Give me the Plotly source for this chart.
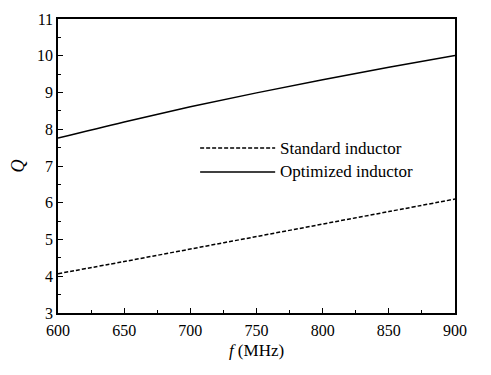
import plotly.graph_objects as go

freq = [600, 650, 700, 750, 800, 850, 900]
q_standard = [4.07, 4.40, 4.74, 5.08, 5.42, 5.76, 6.10]
q_optimized = [7.76, 8.20, 8.61, 8.99, 9.35, 9.69, 10.01]

FONT = "Liberation Serif, Times New Roman, Times, serif"

fig = go.Figure()
fig.add_trace(go.Scatter(x=freq, y=q_standard, mode="lines", name="Standard inductor",
                         line=dict(color="black", width=1.5, dash="4px,2px"), line_shape="spline",
                         showlegend=False))
fig.add_trace(go.Scatter(x=freq, y=q_optimized, mode="lines", name="Optimized inductor",
                         line=dict(color="black", width=1.5), line_shape="spline",
                         showlegend=False))

# manual legend
legend_items = [("Standard inductor", "4px,2px", 0.561), ("Optimized inductor", "solid", 0.480)]
for label, dash, yy in legend_items:
    fig.add_shape(type="line", xref="paper", yref="paper", x0=0.358, x1=0.547, y0=yy, y1=yy,
                  line=dict(color="black", width=1.5, dash=dash))
    fig.add_annotation(xref="paper", yref="paper", x=0.553, y=yy, text=label, showarrow=False,
                       xanchor="left", yanchor="middle", font=dict(family=FONT, size=17, color="black"))

axis_common = dict(showline=True, linecolor="black", linewidth=1.5, mirror=True,
                   ticks="inside", ticklen=5, tickwidth=1.2, tickcolor="black",
                   showgrid=False, zeroline=False, automargin=False,
                   tickfont=dict(family=FONT, size=16, color="black"))

fig.update_xaxes(range=[600, 900], dtick=50, tick0=600, ticklabelstandoff=2,
                 minor=dict(ticks="inside", ticklen=3, dtick=25, tickcolor="black", tickwidth=1),
                 title=dict(text="<i>f</i> (MHz)", font=dict(family=FONT, size=17, color="black"), standoff=6),
                 **axis_common)
fig.update_yaxes(range=[3, 11], dtick=1, tick0=3,
                 minor=dict(ticks="inside", ticklen=3, dtick=0.5, tickcolor="black", tickwidth=1),
                 title=dict(text="<i>Q</i>", font=dict(family=FONT, size=18, color="black"), standoff=12),
                 **axis_common)

fig.update_layout(width=483, height=367, margin=dict(l=50, r=36, t=11, b=62),
                  paper_bgcolor="white", plot_bgcolor="white")

fig.write_html("out.html")
